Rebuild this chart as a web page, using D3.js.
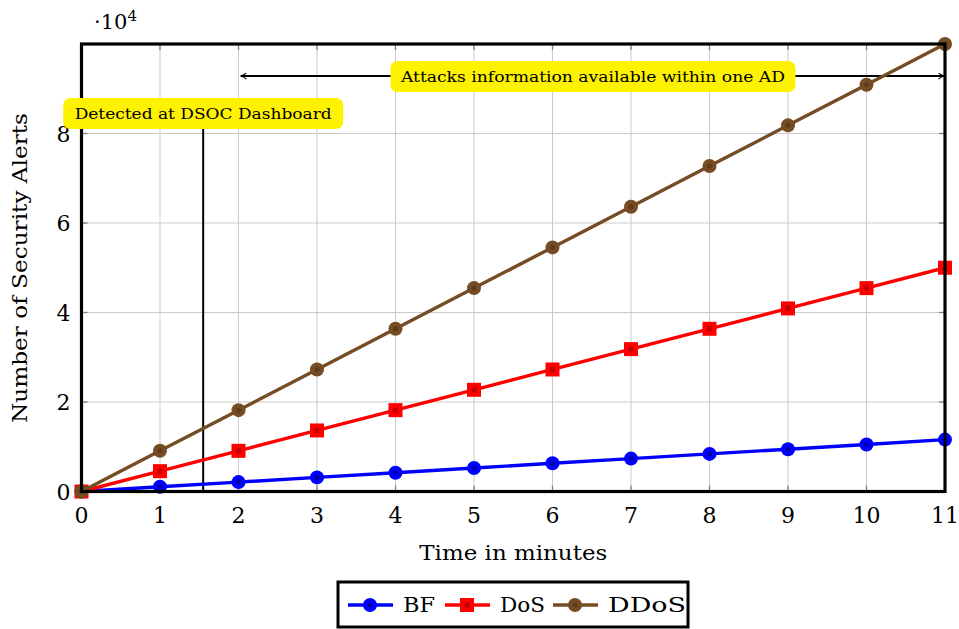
<!DOCTYPE html>
<html>
<head>
<meta charset="utf-8">
<script src="https://cdn.jsdelivr.net/npm/d3@7"></script>
<style>
  body { margin: 0; background: #fff; }
  svg text { font-family: "DejaVu Serif", "Liberation Serif", serif; fill: #000; }
</style>
</head>
<body>
<div id="chart"></div>
<script>
// data
var minutes = [0, 1, 2, 3, 4, 5, 6, 7, 8, 9, 10, 11];
var bfAlerts = [0, 1050, 2100, 3150, 4200, 5250, 6300, 7350, 8400, 9450, 10500, 11600];
var dosAlerts = [0, 4545, 9090, 13640, 18180, 22730, 27270, 31820, 36360, 40910, 45450, 50000];
var ddosAlerts = [0, 9090, 18180, 27270, 36360, 45450, 54550, 63640, 72730, 81820, 90910, 100000];
var seriesNames = ["BF", "DoS", "DDoS"];
var yTicks = [0, 20000, 40000, 60000, 80000];
var detectAt = 1.55;
var spanFrom = 2.03, spanTo = 11;

var width = 959, height = 629;
var margin = {left: 81.5, right: 14, top: 44, bottom: 137.5};

var colors = {"BF": "#0000ff", "DoS": "#ff0000", "DDoS": "#754c24"};
var darker = {"BF": "#0000a8", "DoS": "#c40000", "DDoS": "#5e3c1c"};
var shapes = {"BF": "circle", "DoS": "square", "DDoS": "circle"};

var svg = d3.select("#chart").append("svg")
    .attr("width", width)
    .attr("height", height);

var x = d3.scaleLinear().domain([0, 11]).range([margin.left, width - margin.right]);
var y = d3.scaleLinear().domain([0, 100000]).range([height - margin.bottom, margin.top]);

// grid
var grid = svg.append("g");
grid.selectAll(".vg").data(minutes).enter().append("line")
    .attr("x1", function(d) { return x(d); })
    .attr("x2", function(d) { return x(d); })
    .attr("y1", y(0)).attr("y2", y(100000))
    .attr("stroke", "#cbcbcb").attr("stroke-width", 1);
grid.selectAll(".hg").data(yTicks).enter().append("line")
    .attr("x1", x(0)).attr("x2", x(11))
    .attr("y1", function(d) { return y(d); })
    .attr("y2", function(d) { return y(d); })
    .attr("stroke", "#cbcbcb").attr("stroke-width", 1);

// inner ticks (top/bottom, left/right)
var tk = svg.append("g").attr("stroke", "#808080").attr("stroke-width", 1.3);
minutes.forEach(function(d) {
    tk.append("line").attr("x1", x(d)).attr("x2", x(d)).attr("y1", y(0)).attr("y2", y(0) - 6);
    tk.append("line").attr("x1", x(d)).attr("x2", x(d)).attr("y1", y(100000)).attr("y2", y(100000) + 6);
});
yTicks.forEach(function(d) {
    tk.append("line").attr("x1", x(0)).attr("x2", x(0) + 6).attr("y1", y(d)).attr("y2", y(d));
    tk.append("line").attr("x1", x(11)).attr("x2", x(11) - 6).attr("y1", y(d)).attr("y2", y(d));
});

// DSOC vertical line
svg.append("line")
    .attr("x1", x(detectAt)).attr("x2", x(detectAt))
    .attr("y1", y(0)).attr("y2", 129)
    .attr("stroke", "#000").attr("stroke-width", 2);

// arrow marker
var defs = svg.append("defs");
defs.append("marker").attr("id", "arr")
    .attr("viewBox", "0 0 10 10").attr("refX", 9).attr("refY", 5)
    .attr("markerWidth", 7).attr("markerHeight", 7)
    .attr("markerUnits", "userSpaceOnUse")
    .attr("orient", "auto-start-reverse")
    .append("path").attr("d", "M1,0.5 Q5,4 9.5,5 Q5,6 1,9.5")
    .attr("fill", "none").attr("stroke", "#000").attr("stroke-width", 1.6);

var arrY = 76;
svg.append("line")
    .attr("x1", x(spanFrom)).attr("x2", x(spanTo) - 1)
    .attr("y1", arrY).attr("y2", arrY)
    .attr("stroke", "#000").attr("stroke-width", 2)
    .attr("marker-start", "url(#arr)").attr("marker-end", "url(#arr)");

// series lines
var table = seriesNames.map(function(name, k) {
    var vals = [bfAlerts, dosAlerts, ddosAlerts][k];
    return {name: name, points: minutes.map(function(m, i) { return {m: m, v: vals[i]}; })};
});

var line = d3.line().x(function(d) { return x(d.m); }).y(function(d) { return y(d.v); });

var sg = svg.selectAll(".series").data(table).enter().append("g");
sg.append("path")
    .attr("d", function(d) { return line(d.points); })
    .attr("fill", "none")
    .attr("stroke", function(d) { return colors[d.name]; })
    .attr("stroke-width", 3.4);

function drawMark(g, name, cx, cy) {
    if (shapes[name] === "square") {
        g.append("rect").attr("x", cx - 7).attr("y", cy - 7).attr("width", 14).attr("height", 14)
            .attr("fill", colors[name]);
        g.append("rect").attr("x", cx - 2.5).attr("y", cy - 2.5).attr("width", 5).attr("height", 5)
            .attr("fill", darker[name]);
    } else {
        g.append("circle").attr("cx", cx).attr("cy", cy).attr("r", 7).attr("fill", colors[name]);
        g.append("circle").attr("cx", cx).attr("cy", cy).attr("r", 2.5).attr("fill", darker[name]);
    }
}

sg.each(function(d) {
    var g = d3.select(this);
    d.points.forEach(function(p) { drawMark(g, d.name, x(p.m), y(p.v)); });
});

// frame
svg.append("rect")
    .attr("x", x(0)).attr("y", y(100000))
    .attr("width", x(11) - x(0)).attr("height", y(0) - y(100000))
    .attr("fill", "none").attr("stroke", "#000").attr("stroke-width", 3.2);

// tick labels
svg.selectAll(".xl").data(minutes).enter().append("text")
    .attr("x", function(d) { return x(d); })
    .attr("y", y(0) + 31)
    .attr("text-anchor", "middle")
    .attr("font-size", 22)
    .text(function(d) { return d; });
svg.selectAll(".yl").data(yTicks).enter().append("text")
    .attr("x", x(0) - 11)
    .attr("y", function(d) { return y(d) + 8; })
    .attr("text-anchor", "end")
    .attr("font-size", 22)
    .text(function(d) { return d / 10000; });

var ex = svg.append("text").attr("x", 94).attr("y", 29).attr("font-size", 21);
ex.append("tspan").text("\u00b710");
ex.append("tspan").attr("font-size", 15).attr("dy", -8).text("4");

// axis labels
svg.append("text")
    .attr("x", (x(0) + x(11)) / 2).attr("y", 560)
    .attr("text-anchor", "middle").attr("font-size", 20)
    .attr("textLength", 188).attr("lengthAdjust", "spacingAndGlyphs")
    .text("Time in minutes");
svg.append("text")
    .attr("transform", "translate(27," + 268 + ") rotate(-90)")
    .attr("text-anchor", "middle").attr("font-size", 20)
    .attr("textLength", 310).attr("lengthAdjust", "spacingAndGlyphs")
    .text("Number of Security Alerts");

// annotation labels
function noteBox(cx, cy, w, h, label, tw) {
    svg.append("rect")
        .attr("x", cx - w / 2).attr("y", cy - h / 2)
        .attr("width", w).attr("height", h).attr("rx", 7)
        .attr("fill", "#fff200");
    svg.append("text")
        .attr("x", cx).attr("y", cy + 5)
        .attr("text-anchor", "middle").attr("font-size", 15)
        .attr("textLength", tw).attr("lengthAdjust", "spacingAndGlyphs")
        .text(label);
}
noteBox(x(detectAt), 113.5, 280, 31, "Detected at DSOC Dashboard", 257);
noteBox((x(spanFrom) + x(spanTo)) / 2, 76.5, 405, 31, "Attacks information available within one AD", 384);

// legend
var lg = svg.append("g");
lg.append("rect").attr("x", 338).attr("y", 582).attr("width", 350).attr("height", 45)
    .attr("fill", "#fff").attr("stroke", "#000").attr("stroke-width", 3);
var legX = [348, 445, 553];
var legW = [32, 45, 78];
seriesNames.forEach(function(name, i) {
    var lx = legX[i];
    lg.append("line").attr("x1", lx).attr("x2", lx + 45).attr("y1", 605).attr("y2", 605)
        .attr("stroke", colors[name]).attr("stroke-width", 3.4);
    drawMark(lg, name, lx + 22, 605);
    lg.append("text").attr("x", lx + 55).attr("y", 612).attr("font-size", 21)
        .attr("textLength", legW[i]).attr("lengthAdjust", "spacingAndGlyphs").text(name);
});
</script>
</body>
</html>
